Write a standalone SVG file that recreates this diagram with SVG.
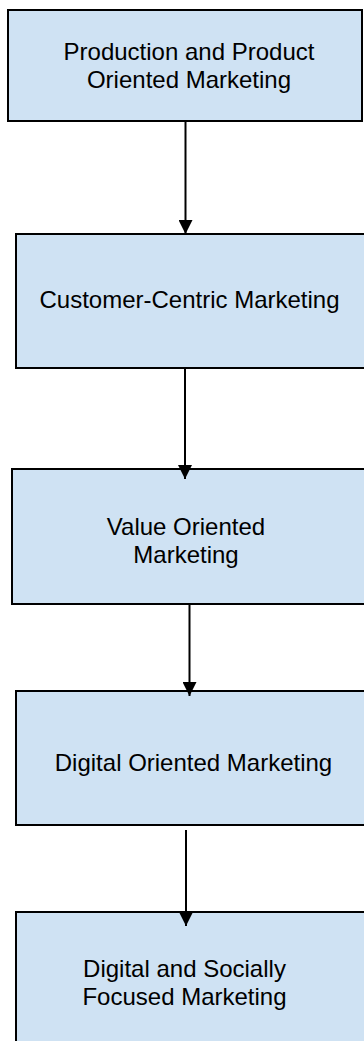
<svg xmlns="http://www.w3.org/2000/svg" width="364" height="1041" viewBox="0 0 364 1041">
<style>
.box{fill:#cfe2f3;stroke:#000;stroke-width:2}
.lbl{font-family:"Liberation Sans",Arial,sans-serif;font-size:24px;fill:#000;text-anchor:middle}
.conn{stroke:#000;stroke-width:2;fill:none}
</style>
<defs>
<marker id="ah" markerWidth="14" markerHeight="14" viewBox="0 0 14 14" refX="14" refY="7" orient="auto" markerUnits="userSpaceOnUse">
<path d="M0,0 L14,7 L0,14 Z" fill="#000"/>
</marker>
</defs>
<rect width="364" height="1041" fill="#fff"/>
<g id="n1"><rect class="box" x="8" y="10" width="354" height="111"/>
<text class="lbl" x="189" y="60">Production and Product</text>
<text class="lbl" x="189" y="88">Oriented Marketing</text></g>
<g id="n2"><rect class="box" x="16" y="234" width="360" height="134"/>
<text class="lbl" x="189.5" y="308">Customer-Centric Marketing</text></g>
<g id="n3"><rect class="box" x="12" y="469" width="364" height="135"/>
<text class="lbl" x="186" y="535">Value Oriented</text>
<text class="lbl" x="186" y="563">Marketing</text></g>
<g id="n4"><rect class="box" x="16" y="691" width="360" height="134"/>
<text class="lbl" x="193.5" y="771">Digital Oriented Marketing</text></g>
<g id="n5"><rect class="box" x="16" y="912" width="360" height="150"/>
<text class="lbl" x="184.5" y="977">Digital and Socially</text>
<text class="lbl" x="184.5" y="1005">Focused Marketing</text></g>
<g id="connectors">
<line class="conn" x1="185.5" y1="122" x2="185.5" y2="234" marker-end="url(#ah)"/>
<line class="conn" x1="185" y1="369" x2="185" y2="479" marker-end="url(#ah)"/>
<line class="conn" x1="189.5" y1="605" x2="189.5" y2="696" marker-end="url(#ah)"/>
<line class="conn" x1="186" y1="830" x2="186" y2="926" marker-end="url(#ah)"/>
</g>
</svg>
